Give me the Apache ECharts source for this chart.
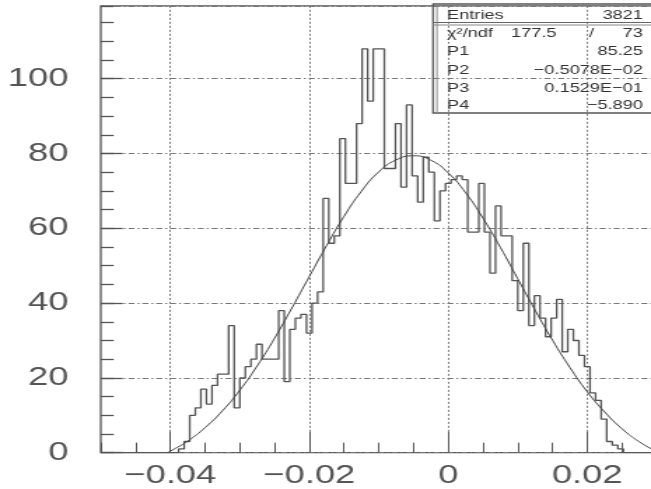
<!DOCTYPE html>
<html>
<head>
<meta charset="utf-8">
<script src="https://cdn.jsdelivr.net/npm/echarts@6/dist/echarts.min.js"></script>
<style>
  html, body { margin: 0; padding: 0; background: #fff; overflow: hidden; }
  #wrap { width: 651px; height: 489px; overflow: hidden; position: relative; }
  /* the canvas is laid out narrow and widened, giving the wide glyphs of the plot */
  #chart { width: 465px; height: 489px; transform: scaleX(1.4); transform-origin: 0 0; }
</style>
</head>
<body>
<div id="wrap"><div id="chart"></div></div>
<script>
// Histogram binning: 100 bins over [-0.05, 0.03]
const histLow = -0.05;
const binWidth = 0.0008;
const counts = [
  0, 0, 0, 0, 0, 0, 0, 0, 0, 0,
  0, 0, 0, 0, 1, 3, 10, 12, 17, 13,
  18, 21, 21, 34, 12, 20, 23, 25, 29, 25,
  25, 25, 38, 19, 33, 36, 37, 32, 40, 43,
  68, 56, 58, 84, 72, 72, 88, 108, 94, 108,
  108, 76, 76, 88, 71, 93, 74, 67, 79, 75,
  62, 70, 72, 73, 74, 73, 59, 59, 72, 59,
  48, 66, 58, 58, 46, 38, 56, 34, 42, 36,
  31, 36, 41, 27, 33, 30, 26, 23, 16, 14,
  9, 3, 2, 1, 0, 0, 0, 0, 0, 0
];

// Fitted curve, sampled points
const fitX = [-0.0404, -0.040, -0.0375, -0.035, -0.0325, -0.030, -0.0275, -0.025, -0.0225, -0.020,
              -0.0175, -0.015, -0.0125, -0.010, -0.0075, -0.005, -0.0025, 0, 0.0025, 0.005,
              0.0075, 0.010, 0.0125, 0.015, 0.0175, 0.020, 0.0225, 0.025, 0.0275, 0.030];
const fitY = [0, 0.4, 3.1, 6.7, 11.2, 16.7, 23.2, 30.6, 38.7, 47.1,
              55.4, 63.2, 69.9, 75.1, 78.3, 79.4, 78.2, 74.8, 69.5, 62.7,
              54.9, 46.5, 38.1, 30.1, 22.8, 16.3, 10.9, 6.4, 2.9, 0.3];

// Axis ticks
const xTickValues = [-0.04, -0.02, 0, 0.02];
const xMin = -0.05, xMax = 0.03, xMinorStep = 0.005;
const yMin = 0, yMax = 119.5, yStep = 20, yMinorStep = 5;

// Statistics box
const statNames = ['Entries', 'χ²/ndf', 'P1', 'P2', 'P3', 'P4'];
const statValues = ['3821', '73', '85.25', '−0.5078E−02', '0.1529E−01', '−5.890'];
const chi2Value = '177.5';

const histData = counts.map((c, i) => [histLow + i * binWidth, c]);
histData.push([histLow + counts.length * binWidth, counts[counts.length - 1]]);
const fitData = fitX.map((x, i) => [x, fitY[i]]);

const axisGrey = '#555';
const labelFont = 'Liberation Sans, Arial, sans-serif';

function fmtX(v) {
  if (Math.abs(v) < 1e-12) return '0';
  const s = Math.abs(v).toFixed(2);
  return (v < 0 ? '−' : '') + s;
}

const chart = echarts.init(document.getElementById('chart'), null, { renderer: 'canvas' });

// stats box geometry (chart-local units)
const bx = 309.3, by = 4, bw = 175, bh = 109;
const rowsY = [15, 33, 51, 70, 88, 105];
const nameX = 319.3, valueX = 459.3;
const statFont = 13;

const graphics = [
  { type: 'rect', shape: { x: bx, y: by, width: bw, height: bh }, style: { fill: 'none', stroke: '#555', lineWidth: 1.3 }, z: 10 },
  { type: 'line', shape: { x1: bx + 2.8, y1: by, x2: bx + 2.8, y2: by + bh }, style: { stroke: '#888', lineWidth: 1 }, z: 10 },
  { type: 'line', shape: { x1: bx, y1: 22.5, x2: bx + bw, y2: 22.5 }, style: { stroke: '#666', lineWidth: 1 }, z: 10 },
  { type: 'line', shape: { x1: bx, y1: 25, x2: bx + bw, y2: 25 }, style: { stroke: '#888', lineWidth: 1 }, z: 10 }
];
statNames.forEach((n, i) => {
  graphics.push({ type: 'text', x: nameX, y: rowsY[i], z: 11,
    style: { text: n, fontSize: statFont, fontFamily: labelFont, fill: '#333', align: 'left', verticalAlign: 'middle' } });
  graphics.push({ type: 'text', x: valueX, y: rowsY[i], z: 11,
    style: { text: statValues[i], fontSize: statFont, fontFamily: labelFont, fill: '#333', align: 'right', verticalAlign: 'middle' } });
});
graphics.push({ type: 'text', x: 397.6, y: rowsY[1], z: 11,
  style: { text: chi2Value, fontSize: statFont, fontFamily: labelFont, fill: '#333', align: 'right', verticalAlign: 'middle' } });
graphics.push({ type: 'text', x: 422.6, y: rowsY[1], z: 11,
  style: { text: '/', fontSize: statFont, fontFamily: labelFont, fill: '#333', align: 'center', verticalAlign: 'middle' } });

const noLine = { show: false, onZero: false };

chart.setOption({
  animation: false,
  backgroundColor: '#fff',
  grid: {
    left: 72, right: -4.1, top: 5.8, bottom: 36.3,
    show: true, borderColor: axisGrey, borderWidth: 1.3, backgroundColor: 'transparent',
    containLabel: false, outerBoundsMode: 'none'
  },
  xAxis: [
    {
      type: 'value', min: xMin, max: xMax, position: 'bottom', splitNumber: 4,
      axisLine: noLine,
      axisTick: { show: true, inside: true, length: 21, customValues: xTickValues, lineStyle: { color: axisGrey, width: 1 } },
      axisLabel: { customValues: xTickValues, formatter: fmtX, fontSize: 26, fontFamily: labelFont, color: axisGrey, margin: 10 },
      splitLine: { show: true, lineStyle: { type: [2, 2], color: '#777', width: 1 } }
    },
    {
      type: 'value', min: xMin, max: xMax, interval: xMinorStep, position: 'bottom',
      axisLine: noLine,
      axisTick: { show: true, inside: true, length: 10, lineStyle: { color: axisGrey, width: 1 } },
      axisLabel: { show: false },
      splitLine: { show: false }
    }
  ],
  yAxis: [
    {
      type: 'value', min: yMin, max: yMax, interval: yStep, position: 'left',
      axisLine: noLine,
      axisTick: { show: true, inside: true, length: 15.7, lineStyle: { color: axisGrey, width: 1.3 } },
      axisLabel: { fontSize: 26, fontFamily: labelFont, color: axisGrey, margin: 23, showMaxLabel: false },
      splitLine: { show: true, lineStyle: { type: [4.3, 2.1, 1.4, 2.1], color: '#777', width: 1 } }
    },
    {
      type: 'value', min: yMin, max: yMax, interval: yMinorStep, position: 'left',
      axisLine: noLine,
      axisTick: { show: true, inside: true, length: 9.3, lineStyle: { color: axisGrey, width: 1.3 } },
      axisLabel: { show: false },
      splitLine: { show: false }
    }
  ],
  series: [
    {
      name: 'histogram', type: 'line', step: 'end', data: histData,
      xAxisIndex: 0, yAxisIndex: 0, symbol: 'none', showSymbol: false,
      lineStyle: { color: '#555', width: 1.3 }, z: 3, clip: true
    },
    {
      name: 'fit', type: 'line', smooth: true, data: fitData,
      xAxisIndex: 0, yAxisIndex: 0, symbol: 'none', showSymbol: false,
      lineStyle: { color: '#444', width: 1 }, z: 4, clip: true
    }
  ],
  graphic: graphics
});
</script>
</body>
</html>
